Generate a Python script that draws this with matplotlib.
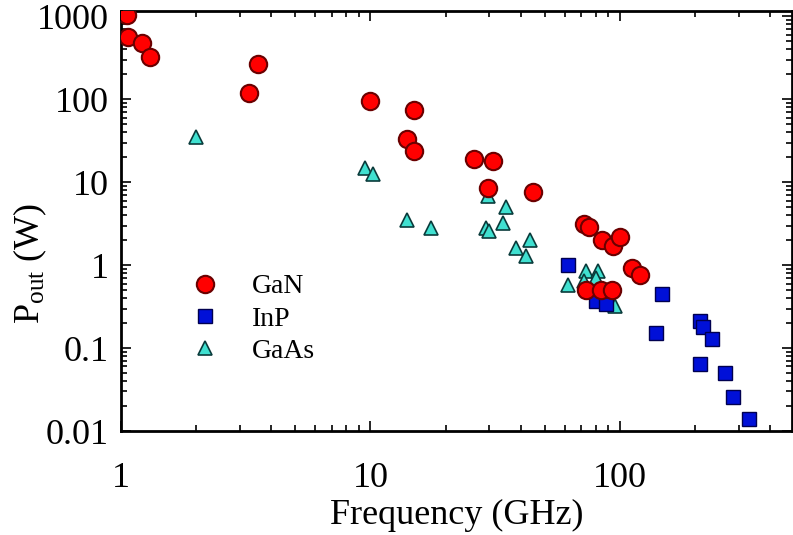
import matplotlib
matplotlib.use('Agg')
import matplotlib.pyplot as plt
from matplotlib.ticker import LogLocator, FixedLocator, FixedFormatter, NullFormatter

plt.rcParams['font.family'] = ['Liberation Serif', 'DejaVu Serif']
plt.rcParams['mathtext.fontset'] = 'custom'
plt.rcParams['mathtext.rm'] = 'Liberation Serif'
plt.rcParams['mathtext.it'] = 'Liberation Serif:italic'

# GaN (circles)
gan_f = [1.06, 1.07, 1.21, 1.31, 3.55, 3.25, 10, 15, 14, 15, 26, 31, 29.5, 45,
         72, 75, 85, 94, 100, 112, 120, 73, 84, 93]
gan_p = [1050, 560, 480, 320, 270, 120, 95, 75, 33, 24, 19, 18, 8.6, 7.7,
         3.1, 2.9, 2.0, 1.7, 2.2, 0.92, 0.75, 0.5, 0.5, 0.5]

# InP (squares)
inp_f = [62, 80, 88, 147, 140, 210, 215, 235, 210, 265, 285, 330]
inp_p = [1.0, 0.37, 0.34, 0.45, 0.15, 0.21, 0.18, 0.13, 0.065, 0.05, 0.026, 0.014]

# GaAs (triangles)
gaas_f = [2.0, 9.5, 10.2, 14, 17.5, 29.5, 35, 34, 29, 30, 43.5, 38.5, 42,
          62, 73, 82, 80, 72, 96]
gaas_p = [35, 15, 12.5, 3.5, 2.8, 6.9, 5.0, 3.2, 2.8, 2.55, 2.0, 1.6, 1.28,
          0.58, 0.85, 0.85, 0.7, 0.65, 0.32]

y_ticks = [0.01, 0.1, 1, 10, 100, 1000]
y_labels = ['0.01', '0.1', '1', '10', '100', '1000']
x_ticks = [1, 10, 100]
x_labels = ['1', '10', '100']

fig = plt.figure(figsize=(7.93, 5.35), dpi=100)
ax = fig.add_axes([121 / 793, 104 / 535, 671 / 793, 420 / 535])

ax.plot(gaas_f, gaas_p, '^', ms=10, mfc='#40e0d0', mec='#0a3b3b', mew=1.2, label='GaAs', zorder=3)
ax.plot(inp_f, inp_p, 's', ms=10, mfc='#0010d8', mec='#000050', mew=1.0, label='InP', zorder=3)
ax.plot(gan_f, gan_p, 'o', ms=12.5, mfc='#ff0000', mec='#6a0000', mew=1.5, label='GaN', zorder=4)

ax.set_xscale('log')
ax.set_yscale('log')
ax.set_xlim(1, 490)
ax.set_ylim(0.01, 1160)

ax.xaxis.set_major_locator(FixedLocator(x_ticks))
ax.xaxis.set_major_formatter(FixedFormatter(x_labels))
ax.yaxis.set_major_locator(FixedLocator(y_ticks))
ax.yaxis.set_major_formatter(FixedFormatter(y_labels))
ax.xaxis.set_minor_locator(LogLocator(base=10, subs=range(2, 10), numticks=20))
ax.yaxis.set_minor_locator(LogLocator(base=10, subs=range(2, 10), numticks=20))
ax.xaxis.set_minor_formatter(NullFormatter())
ax.yaxis.set_minor_formatter(NullFormatter())

ax.tick_params(which='both', direction='in', top=True, right=True, width=1.2)
ax.tick_params(which='major', length=7, labelsize=26)
ax.tick_params(which='minor', length=4)
ax.tick_params(axis='x', which='major', pad=22)
ax.tick_params(axis='y', which='major', pad=9)
for s in ax.spines.values():
    s.set_linewidth(2)

ax.set_xlabel('Frequency (GHz)', fontsize=26, labelpad=3)
ax.set_ylabel('P$_{\\mathrm{out}}$ (W)', fontsize=26)
ax.yaxis.set_label_coords(-0.108, 0.40)

handles, labels = ax.get_legend_handles_labels()
order = [2, 1, 0]
ax.legend([handles[i] for i in order], [labels[i] for i in order],
          loc='upper left', bbox_to_anchor=(177 / 793, 1 - 260 / 535),
          bbox_transform=fig.transFigure, frameon=False, fontsize=20,
          handlelength=1.0, handletextpad=1.2, labelspacing=0.25, borderpad=0)

fig.savefig('out.png', dpi=100)
